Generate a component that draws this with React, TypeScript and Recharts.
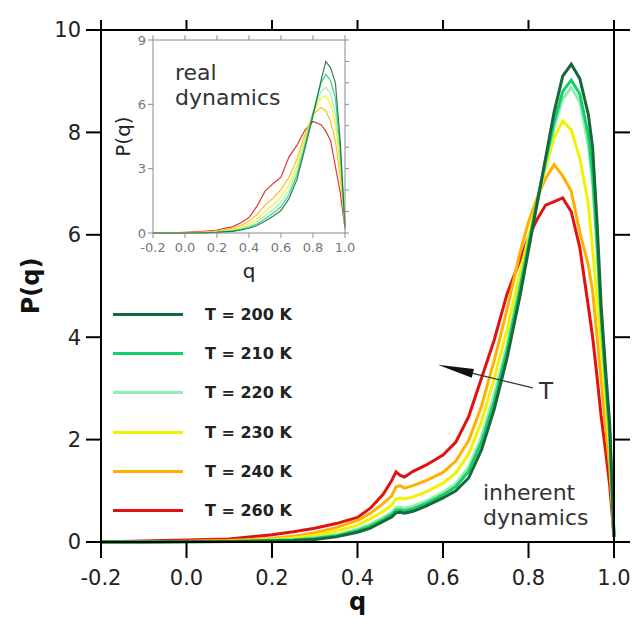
import { LineChart, Line, XAxis, YAxis, ReferenceLine } from 'recharts'

// temperatures and their colours (legend order)
const TEMPS = ['200', '210', '220', '230', '240', '260']
const COLORS = ['#17683a', '#12cf6c', '#90eeb0', '#f2f200', '#ffb000', '#e01212']

const X_TICKS = [-0.2, 0, 0.2, 0.4, 0.6, 0.8, 1.0]
const Y_TICKS = [0, 2, 4, 6, 8, 10]
const INSET_Y_TICKS = [0, 3, 6, 9]
const INSET_RIGHT_TICKS = [0, 1, 2, 3, 4, 5, 6, 7, 8, 9]

// main panel: inherent dynamics
const Q_MAIN = [-0.2, -0.1, 0.0, 0.1, 0.2, 0.25, 0.3, 0.35, 0.4, 0.43, 0.46, 0.48, 0.49, 0.5, 0.51, 0.53, 0.56, 0.6, 0.63, 0.66, 0.69, 0.72, 0.75, 0.78, 0.8, 0.82, 0.84, 0.86, 0.88, 0.9, 0.92, 0.94, 0.95, 0.96, 0.97, 0.98, 0.99, 1.0]
const P200 = [0, 0, 0.005, 0.01, 0.02, 0.03, 0.05, 0.1, 0.19, 0.27, 0.4, 0.49, 0.57, 0.58, 0.56, 0.6, 0.7, 0.86, 1.0, 1.25, 1.8, 2.6, 3.6, 4.8, 5.7, 6.6, 7.5, 8.4, 9.1, 9.33, 9.05, 8.35, 7.7, 6.3, 4.6, 3.4, 2.3, 0.1]
const P210 = [0, 0, 0.005, 0.01, 0.03, 0.04, 0.07, 0.12, 0.22, 0.31, 0.44, 0.54, 0.62, 0.63, 0.61, 0.65, 0.75, 0.92, 1.08, 1.38, 1.95, 2.75, 3.75, 4.95, 5.8, 6.65, 7.45, 8.2, 8.8, 9.02, 8.75, 7.95, 7.2, 5.9, 4.4, 3.2, 2.1, 0.1]
const P220 = [0, 0, 0.008, 0.012, 0.035, 0.05, 0.085, 0.14, 0.25, 0.35, 0.48, 0.58, 0.67, 0.68, 0.66, 0.7, 0.8, 0.97, 1.14, 1.46, 2.05, 2.88, 3.85, 5.02, 5.82, 6.6, 7.4, 8.1, 8.65, 8.88, 8.6, 7.75, 7.0, 5.75, 4.3, 3.15, 2.05, 0.12]
const P230 = [0, 0.005, 0.01, 0.02, 0.05, 0.08, 0.13, 0.21, 0.33, 0.45, 0.6, 0.72, 0.84, 0.86, 0.84, 0.88, 0.98, 1.15, 1.35, 1.72, 2.35, 3.2, 4.15, 5.25, 5.95, 6.65, 7.3, 7.9, 8.22, 8.05, 7.5, 6.6, 5.7, 4.8, 3.8, 2.8, 1.8, 0.15]
const P240 = [0, 0.005, 0.015, 0.03, 0.07, 0.11, 0.18, 0.28, 0.42, 0.56, 0.75, 0.9, 1.08, 1.1, 1.05, 1.1, 1.2, 1.36, 1.58, 1.98, 2.65, 3.55, 4.55, 5.65, 6.25, 6.72, 7.1, 7.37, 7.15, 6.85, 6.05, 5.4, 4.9, 4.05, 3.15, 2.3, 1.45, 0.15]
const P260 = [0, 0.02, 0.04, 0.06, 0.14, 0.2, 0.27, 0.36, 0.48, 0.66, 0.93, 1.2, 1.37, 1.3, 1.27, 1.38, 1.5, 1.7, 1.95, 2.45, 3.2, 3.95, 4.85, 5.5, 5.95, 6.3, 6.58, 6.65, 6.72, 6.45, 5.75, 4.6, 4.0, 3.25, 2.45, 1.8, 1.1, 0.1]

// inset: real dynamics
const Q_INSET = [-0.2, -0.1, 0, 0.1, 0.2, 0.3, 0.35, 0.4, 0.45, 0.5, 0.55, 0.6, 0.65, 0.7, 0.75, 0.8, 0.85, 0.88, 0.91, 0.94, 0.97, 1.0]
const I200 = [0, 0, 0, 0.01, 0.03, 0.08, 0.14, 0.22, 0.35, 0.55, 0.78, 1.05, 1.6, 2.5, 3.95, 5.45, 7.1, 8.0, 7.7, 7.0, 4.3, 0.3]
const I210 = [0, 0, 0, 0.01, 0.04, 0.1, 0.17, 0.27, 0.42, 0.65, 0.92, 1.22, 1.78, 2.7, 4.1, 5.6, 7.0, 7.4, 7.1, 6.3, 3.9, 0.3]
const I220 = [0, 0, 0.005, 0.02, 0.05, 0.13, 0.22, 0.34, 0.52, 0.8, 1.08, 1.42, 1.98, 2.92, 4.25, 5.6, 6.6, 6.8, 6.5, 5.6, 3.5, 0.3]
const I230 = [0, 0, 0.01, 0.03, 0.07, 0.17, 0.28, 0.43, 0.65, 1.0, 1.3, 1.68, 2.25, 3.15, 4.4, 5.6, 6.3, 6.4, 6.0, 5.1, 3.1, 0.3]
const I240 = [0, 0.005, 0.02, 0.04, 0.1, 0.22, 0.35, 0.55, 0.85, 1.3, 1.62, 2.02, 2.6, 3.45, 4.6, 5.55, 5.85, 5.7, 5.2, 4.3, 2.6, 0.3]
const I260 = [0, 0.01, 0.03, 0.06, 0.14, 0.3, 0.48, 0.72, 1.25, 1.95, 2.3, 2.6, 3.55, 4.1, 4.8, 5.2, 5.05, 4.75, 4.3, 3.1, 1.9, 0.2]

const MAIN_SERIES = [P200, P210, P220, P230, P240, P260]
const INSET_SERIES = [I200, I210, I220, I230, I240, I260]

// arrow annotation, in data units (tail -> tip)
const ARROW = [{ x: 0.81, y: 3.01 }, { x: 0.588, y: 3.46 }]

const buildRows = (qs: number[], series: number[][]) =>
  qs.map((q, i) => {
    const row: Record<string, number> = { q }
    TEMPS.forEach((t, s) => { row['t' + t] = series[s][i] })
    return row
  })

const mainRows = buildRows(Q_MAIN, MAIN_SERIES)
const insetRows = buildRows(Q_INSET, INSET_SERIES)

const FONT = '"DejaVu Sans", Verdana, sans-serif'
const fmt = (v: number) => v.toFixed(1)
const blank = () => ''

function Arrow(props: any) {
  const { x1, y1, x2, y2 } = props
  const dx = x2 - x1
  const dy = y2 - y1
  const len = Math.sqrt(dx * dx + dy * dy) || 1
  const ux = dx / len
  const uy = dy / len
  const headLen = 36
  const headW = 4.5
  const bx = x2 - ux * headLen
  const by = y2 - uy * headLen
  const pts = `${x2},${y2} ${bx - uy * headW},${by + ux * headW} ${bx + uy * headW},${by - ux * headW}`
  return (
    <g>
      <line x1={x1} y1={y1} x2={bx} y2={by} stroke="#333" strokeWidth={1.2} />
      <polygon points={pts} fill="#111" />
    </g>
  )
}

const order = [5, 4, 3, 2, 1, 0] // draw the warm curves first, 200 K on top

export default function App() {
  const axisStroke = { stroke: '#000', strokeWidth: 2 }
  const insetStroke = { stroke: '#8a8a8a', strokeWidth: 1 }
  const insetTick = { fill: '#777', fontSize: 13, fontFamily: FONT }

  return (
    <div style={{ position: 'absolute', left: 0, top: 0, width: 634, height: 624, background: '#fff', fontFamily: FONT }}>
      <LineChart width={634} height={624} data={mainRows} margin={{ top: 29, right: 19, bottom: 0, left: 0 }}>
        <XAxis
          dataKey="q"
          type="number"
          domain={[-0.2, 1]}
          ticks={X_TICKS}
          tickFormatter={fmt}
          height={82}
          tickSize={16}
          tickMargin={12}
          axisLine={axisStroke}
          tickLine={axisStroke}
          tick={{ fill: '#222', fontSize: 21, fontFamily: FONT }}
          label={{ value: 'q', position: 'insideBottom', offset: 14, fill: '#111', fontSize: 24, fontWeight: 'bold', fontFamily: FONT }}
        />
        <XAxis
          xAxisId="top"
          dataKey="q"
          orientation="top"
          type="number"
          domain={[-0.2, 1]}
          allowDataOverflow
          ticks={X_TICKS}
          tickFormatter={blank}
          height={1}
          tickSize={10}
          axisLine={axisStroke}
          tickLine={axisStroke}
        />
        <YAxis
          type="number"
          domain={[0, 10]}
          ticks={Y_TICKS}
          width={101}
          tickSize={15}
          tickMargin={5}
          axisLine={axisStroke}
          tickLine={axisStroke}
          tick={{ fill: '#222', fontSize: 21, fontFamily: FONT }}
          label={{ value: 'P(q)', angle: -90, position: 'insideLeft', offset: 30, fill: '#111', fontSize: 24, fontWeight: 'bold', fontFamily: FONT, style: { textAnchor: 'middle' } }}
        />
        <YAxis
          yAxisId="right"
          orientation="right"
          type="number"
          domain={[0, 10]}
          allowDataOverflow
          ticks={Y_TICKS}
          width={1}
          tickSize={16}
          tickFormatter={blank}
          axisLine={axisStroke}
          tickLine={axisStroke}
        />
        {order.map((s) => (
          <Line
            key={TEMPS[s]}
            dataKey={'t' + TEMPS[s]}
            name={`T = ${TEMPS[s]} K`}
            type="linear"
            stroke={COLORS[s]}
            strokeWidth={3}
            dot={false}
            isAnimationActive={false}
          />
        ))}
        <ReferenceLine segment={ARROW} shape={(p: any) => <Arrow {...p} />} />
      </LineChart>

      {/* inset: real dynamics */}
      <div style={{ position: 'absolute', left: 100, top: 20 }}>
        <LineChart width={260} height={270} data={insetRows} margin={{ top: 19, right: 14, bottom: 0, left: 0 }}>
          <XAxis
            dataKey="q"
            type="number"
            domain={[-0.2, 1]}
            ticks={X_TICKS}
            tickFormatter={fmt}
            height={57}
            tickSize={5}
            tickMargin={5}
            axisLine={insetStroke}
            tickLine={insetStroke}
            tick={insetTick}
            label={{ value: 'q', position: 'insideBottom', offset: 12, fill: '#222', fontSize: 20, fontFamily: FONT }}
          />
          <XAxis
            xAxisId="top"
            dataKey="q"
            orientation="top"
            type="number"
            domain={[-0.2, 1]}
            allowDataOverflow
            ticks={X_TICKS}
            tickFormatter={blank}
            height={1}
            tickSize={5}
            axisLine={insetStroke}
            tickLine={insetStroke}
          />
          <YAxis
            type="number"
            domain={[0, 9]}
            ticks={INSET_Y_TICKS}
            width={53}
            tickSize={5}
            tickMargin={2}
            axisLine={insetStroke}
            tickLine={insetStroke}
            tick={insetTick}
            label={{ value: 'P(q)', angle: -90, position: 'insideLeft', offset: 23, fill: '#222', fontSize: 20, fontFamily: FONT, style: { textAnchor: 'middle' } }}
          />
          <YAxis
            yAxisId="right"
            orientation="right"
            type="number"
            domain={[0, 9]}
            allowDataOverflow
            ticks={INSET_RIGHT_TICKS}
            width={1}
            tickSize={4}
            tickFormatter={blank}
            axisLine={insetStroke}
            tickLine={insetStroke}
          />
          {order.map((s) => (
            <Line
              key={TEMPS[s]}
              dataKey={'t' + TEMPS[s]}
              type="linear"
              stroke={COLORS[s]}
              strokeWidth={1.2}
              strokeOpacity={0.85}
              dot={false}
              isAnimationActive={false}
            />
          ))}
        </LineChart>
      </div>

      {/* legend */}
      <div style={{ position: 'absolute', left: 113, top: 295, color: '#222', fontSize: 16, fontWeight: 'bold' }}>
        {TEMPS.map((t, i) => (
          <div key={t} style={{ display: 'flex', alignItems: 'center', height: 39.2 }}>
            <div style={{ width: 70, height: 3, background: COLORS[i] }} />
            <span style={{ marginLeft: 22, whiteSpace: 'pre' }}>{`T = ${t} K`}</span>
          </div>
        ))}
      </div>

      <div style={{ position: 'absolute', left: 175, top: 60, fontSize: 22, lineHeight: '25px', color: '#333' }}>
        real<br />dynamics
      </div>
      <div style={{ position: 'absolute', left: 483, top: 480, fontSize: 22, lineHeight: '25px', color: '#333' }}>
        inherent<br />dynamics
      </div>
      <div style={{ position: 'absolute', left: 539, top: 378, fontSize: 23, color: '#333' }}>T</div>
    </div>
  )
}
